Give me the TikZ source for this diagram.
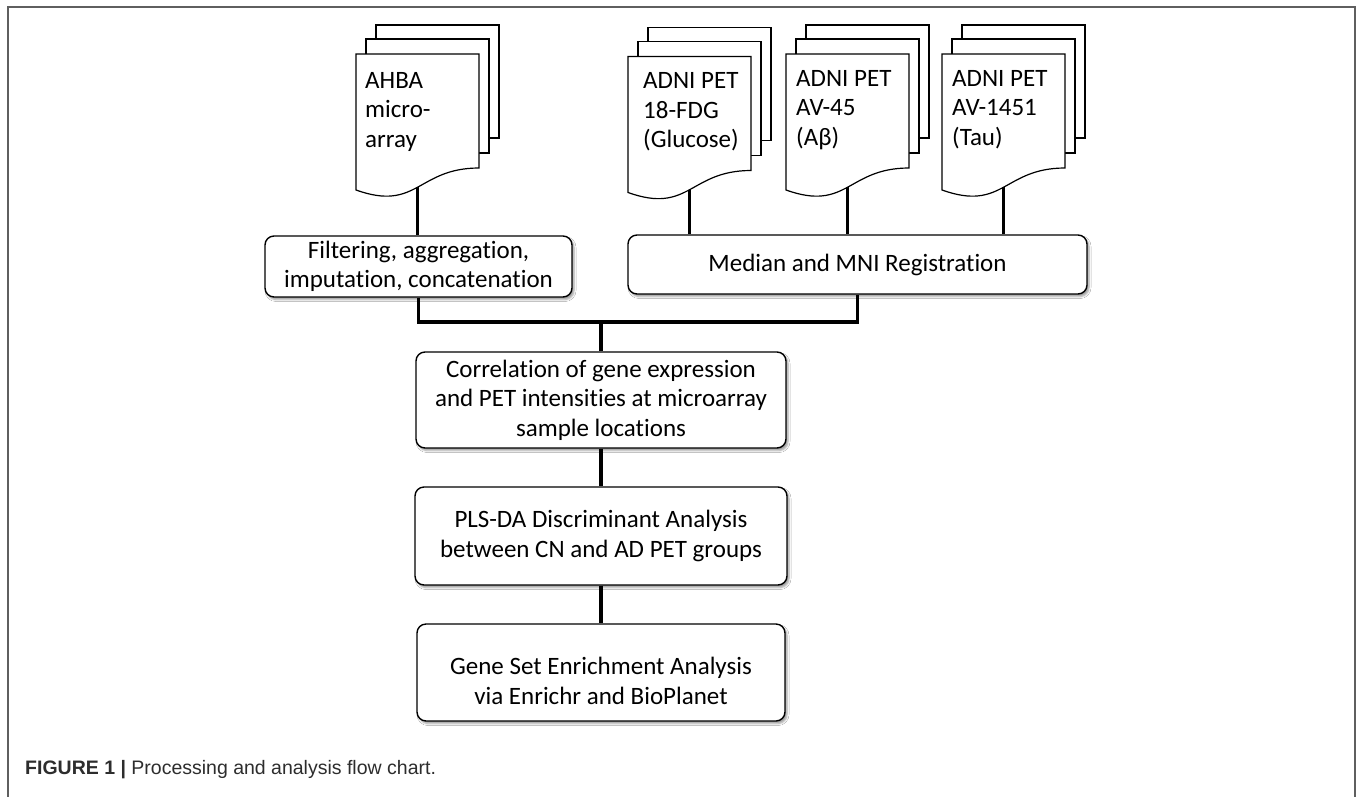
\documentclass[tikz,border=0pt]{standalone}
\usepackage{fontspec}
\setmainfont{Carlito}[Ligatures={NoCommon}]
\newfontfamily\capfont{Liberation Sans}
\usetikzlibrary{shadows.blur}
\definecolor{framegray}{RGB}{95,95,95}
\definecolor{capgray}{RGB}{45,45,45}
\tikzset{
  boxshape/.style={draw=black, line width=1.4pt, rounded corners=9pt, fill=white,
    inner sep=0pt,
    blur shadow={shadow xshift=2pt, shadow yshift=-2.5pt, shadow opacity=40, shadow blur radius=2pt}},
  box/.style={boxshape, align=center, font=\fontsize{25}{29.5}\selectfont},
  boxtext/.style={align=center, inner sep=0pt, font=\fontsize{25}{29.5}\selectfont},
  page/.style={draw=black, line width=1.2pt, fill=white},
  doctext/.style={anchor=north west, align=left, inner sep=0pt, font=\fontsize{25}{29.5}\selectfont},
  conn/.style={line width=3.5pt, draw=black},
}
\newcommand\docstack[3]{%
  \path[page] (#1+20,#2-29) rectangle (#1+143,#2+84);
  \path[page] (#1+10,#2-15) rectangle (#1+133,#2+99);
  \path[page] (#1,#2) -- (#1+123,#2) -- (#1+123,#2+114)
     .. controls (#1+61.5,#2+114) and (#1+61.5,#2+158) .. (#1,#2+136) -- cycle;
  \coordinate (#3) at (#1+61.5,#2+133);
}
\begin{document}
\begin{tikzpicture}[x=1pt,y=-1pt]
\useasboundingbox (0,0) rectangle (1357,796);
\fill[white] (0,0) rectangle (1357,796);
\draw[framegray, line width=2pt] (8,800) -- (8,6.5) -- (1355,6.5) -- (1355,800);

\docstack{356}{54}{ahbab}
\docstack{628}{56.5}{fdgb}
\docstack{786}{54}{avb}
\docstack{942}{54}{taub}

\node[doctext] (ahbat) at (365,72) {AHBA\\micro-\\array};
\node[doctext] (fdgt) at (643,72.5) {ADNI PET\\18-FDG\\(Glucose)};
\node[doctext] (avt) at (796,70) {ADNI PET\\AV-45\\(Aβ)};
\node[doctext] (taut) at (952,70) {ADNI PET\\AV-1451\\(Tau)};

\node[box, minimum width=307pt, minimum height=61pt] (filter) at (418.5,266.5) {Filtering, aggregation,\\imputation, concatenation};
\node[box, minimum width=459pt, minimum height=59pt] (median) at (857.5,264.5) {Median and MNI Registration};
\node[box, minimum width=370pt, minimum height=96pt] (corr) at (601,400) {Correlation of gene expression\\and PET intensities at microarray\\sample locations};
\node[box, minimum width=372pt, minimum height=98pt] (pls) at (601,536) {PLS-DA Discriminant Analysis\\between CN and AD PET groups};
\node[boxshape, minimum width=368pt, minimum height=97pt] (gene) at (601,672.5) {};
\node[boxtext] (genet) at (601,681) {Gene Set Enrichment Analysis\\via Enrichr and BioPlanet};

\draw[conn] (ahbab) -- (ahbab |- filter.north);
\draw[conn] (fdgb) -- (fdgb |- median.north);
\draw[conn] (avb) -- (avb |- median.north);
\draw[conn] (taub) -- (taub |- median.north);
\coordinate (bus) at (601,322);
\draw[conn] (filter.south) |- (bus) -| (median.south);
\draw[conn] (bus) -- (corr.north);
\draw[conn] (corr.south) -- (pls.north);
\draw[conn] (pls.south) -- (gene.north);

\node[anchor=base west, inner sep=0pt, font=\capfont\fontsize{19.5}{22}\selectfont, text=capgray] (cap) at (25,774) {\textbf{FIGURE 1 |} Processing and analysis flow chart.};
\end{tikzpicture}
\end{document}
